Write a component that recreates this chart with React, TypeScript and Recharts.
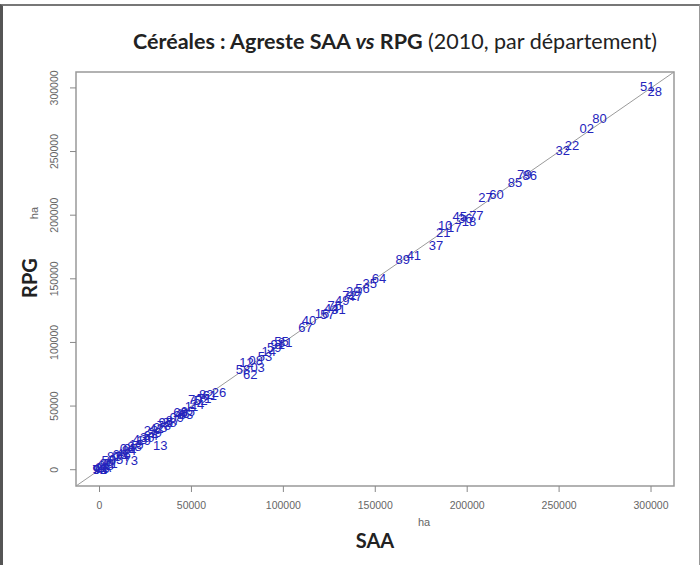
import { ScatterChart, Scatter, XAxis, YAxis, ReferenceLine, ReferenceArea } from 'recharts';

const deps = [
  '51', '28', '80', '02', '32', '22', '86', '79', '85', '60', '27', '77', '18', '36', '45', '17', '10', '21', '37', '41',
  '89', '64', '35', '56', '47', '29', '72', '49', '31', '76', '44', '57', '16', '40', '67', '81', '55', '91', '59', '14',
  '53', '03', '08', '12', '62', '58', '26', '61', '82', '71', '52', '70', '24', '11', '65', '63', '46', '68', '09', '87',
  '38', '95', '78', '13', '25', '42', '39', '23', '34', '30', '19', '43', '15', '88', '07', '73', '84', '04', '48', '66',
  '74', '05', '83', '01', '50', '90', '2B', '2A', '06', '94', '93', '92', '75'
];

const saa = [
  298000, 302000, 272000, 265000, 252000, 257000, 234000, 231000, 226000, 216000, 210000, 205000, 201000, 199000, 196000, 193000, 188000, 187000, 183000, 171000,
  165000, 152000, 147000, 143000, 139000, 138000, 136000, 132000, 130000, 128000, 126000, 124000, 121000, 114000, 112000, 101000, 99000, 97000, 95000, 92000,
  90000, 86000, 85000, 80000, 82000, 78000, 65000, 60000, 58000, 57000, 55000, 52000, 53000, 50000, 48000, 47000, 45000, 44000, 42000, 40000,
  38000, 36000, 35000, 33000, 33000, 31000, 30000, 28000, 28000, 26000, 24000, 22000, 20000, 19000, 17000, 17000, 16000, 15000, 13000, 11000,
  12000, 9000, 8000, 6000, 5000, 4000, 3500, 2000, 1500, 500, 300, 100, 0
];

const rpg = [
  301000, 297000, 276000, 268000, 251000, 255000, 231000, 232000, 226000, 216000, 214000, 200000, 195000, 197000, 199000, 190000, 192000, 186000, 176000, 168000,
  165000, 150000, 146000, 142000, 136000, 140000, 137000, 133000, 126000, 129000, 127000, 122000, 123000, 117000, 112000, 100000, 101000, 98000, 96000, 93000,
  89000, 80000, 86000, 84000, 75000, 79000, 61000, 58000, 59000, 56000, 54000, 55000, 51000, 50000, 46000, 43000, 44000, 45000, 41000, 39000,
  37000, 37000, 35000, 19000, 33000, 32000, 29000, 31000, 27000, 25000, 23000, 24000, 20000, 18000, 17000, 7000, 15000, 16500, 13000, 12000,
  10000, 8000, 10000, 5000, 7000, 4500, 3000, 1800, 1200, 400, 200, 50, 0
];

const axisTicks = [0, 50000, 100000, 150000, 200000, 250000, 300000];

const data = deps.map((d, i) => ({ dep: d, saa: saa[i], rpg: rpg[i] }));

const LO = -12800;
const HI = 312500;

const DepLabel = (props: any) => (
  <text
    x={props.cx}
    y={props.cy}
    textAnchor='middle'
    dominantBaseline='central'
    fontSize={13}
    fontFamily='Liberation Sans, Arial, sans-serif'
    fill='#2424bc'
  >
    {props.payload.dep}
  </text>
);

const YTick = (props: any) => (
  <text
    transform={`translate(${props.x - 10},${props.y}) rotate(-90)`}
    textAnchor='middle'
    fontSize={10.5}
    fontFamily='Liberation Sans, Arial, sans-serif'
    fill='#666'
  >
    {props.payload.value}
  </text>
);

export default function App() {
  return (
    <div
      style={{
        position: 'absolute',
        left: 0,
        top: 0,
        width: 700,
        height: 565,
        background: '#fff',
        boxSizing: 'border-box',
        borderTop: '2px solid #777',
        borderLeft: '3px solid #555',
        borderBottom: '3px solid #333',
        borderRight: '1px solid #999',
        marginTop: 4
      }}
    >
      <div style={{ position: 'absolute', left: -3, top: -6 }}>
        <ScatterChart width={700} height={565} margin={{ top: 72, right: 26, bottom: 49, left: 36 }}>
          <XAxis
            type='number'
            dataKey='saa'
            domain={[LO, HI]}
            ticks={axisTicks}
            allowDataOverflow
            axisLine={false}
            tickLine={{ stroke: '#888' }}
            tickSize={6}
            tickMargin={10}
            height={30}
            tick={{ fontSize: 10.5, fill: '#666', fontFamily: 'Liberation Sans, Arial, sans-serif' }}
          />
          <YAxis
            type='number'
            dataKey='rpg'
            domain={[LO, HI]}
            ticks={axisTicks}
            allowDataOverflow
            axisLine={false}
            tickLine={{ stroke: '#888' }}
            tickSize={6}
            tickMargin={2}
            width={40}
            tick={<YTick />}
          />
          <ReferenceArea x1={LO} x2={HI} y1={LO} y2={HI} fill='none' stroke='#999' strokeWidth={1.5} />
          <ReferenceLine
            segment={[{ x: LO, y: LO }, { x: HI, y: HI }]}
            stroke='#9a9a9a'
            strokeWidth={1}
          />
          <Scatter data={data} shape={<DepLabel />} isAnimationActive={false} />
        </ScatterChart>
        <svg
          width={700}
          height={565}
          style={{ position: 'absolute', left: 0, top: 0, pointerEvents: 'none' }}
        >
          <text x={133} y={49} fontSize={21.5} fontFamily='Lato, sans-serif' fill='#222'>
            <tspan fontWeight='bold'>Céréales  : Agreste SAA </tspan>
            <tspan fontWeight='bold' fontStyle='italic'>vs</tspan>
            <tspan fontWeight='bold'> RPG</tspan>
            <tspan>  (2010, par département)</tspan>
          </text>
          <text x={375} y={548} textAnchor='middle' fontSize={20} fontWeight='bold' fontFamily='Lato, sans-serif' fill='#222'>
            SAA
          </text>
          <text x={424} y={526} textAnchor='middle' fontSize={11} fontFamily='Liberation Sans, Arial, sans-serif' fill='#666'>
            ha
          </text>
          <text transform='translate(37,278) rotate(-90)' textAnchor='middle' fontSize={20} fontWeight='bold' fontFamily='Lato, sans-serif' fill='#222'>
            RPG
          </text>
          <text transform='translate(38,213) rotate(-90)' textAnchor='middle' fontSize={11} fontFamily='Liberation Sans, Arial, sans-serif' fill='#666'>
            ha
          </text>
        </svg>
      </div>
    </div>
  );
}
